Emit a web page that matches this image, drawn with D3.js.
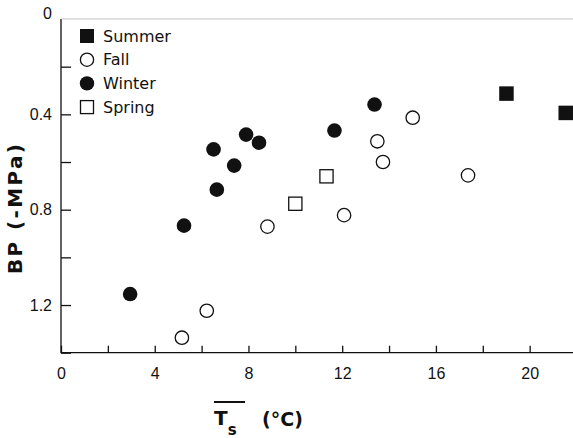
<!DOCTYPE html>
<html>
<head>
<meta charset="utf-8">
<script src="https://cdn.jsdelivr.net/npm/d3@7"></script>
<style>
  body { margin: 0; background: #fff; }
  svg { display: block; font-family: "DejaVu Sans", sans-serif; }
  .tick text { font-size: 16px; fill: #111; }
  .tick line, .domain { stroke: #111; stroke-width: 1.3; }
</style>
</head>
<body>
<div id="chart"></div>
<script>
// season data: [Ts (°C), BP (-MPa)]
const summer = [[19.01, 0.313], [21.54, 0.394]];
const fall = [[5.16, 1.337], [6.22, 1.224], [8.81, 0.871], [12.08, 0.823],
              [13.50, 0.513], [13.74, 0.600], [15.01, 0.414], [17.37, 0.656]];
const winter = [[2.95, 1.154], [5.25, 0.867], [6.51, 0.547], [6.65, 0.716],
                [7.39, 0.615], [7.90, 0.485], [8.45, 0.519], [11.67, 0.468],
                [13.38, 0.359]];
const spring = [[10.0, 0.775], [11.33, 0.660]];

const xTicks = [0, 2, 4, 6, 8, 10, 12, 14, 16, 18, 20];
const xLabels = [0, 4, 8, 12, 16, 20];
const yTicks = [0, 0.2, 0.4, 0.6, 0.8, 1.0, 1.2, 1.4];
const yLabels = [0, 0.4, 0.8, 1.2];
const legendNames = ['Summer', 'Fall', 'Winter', 'Spring'];

const width = 573, height = 438;
const margin = [19, 86, 61, 0]; // top, bottom, left, right

const svg = d3.select('#chart').append('svg')
    .attr('width', width)
    .attr('height', height);

const scaleX = d3.scaleLinear([0, 21.85], [margin[2], width - margin[3]]);
const scaleY = d3.scaleLinear([0, 1.4], [margin[0], height - margin[1] + 0.7]);

// axes, ticks pointing inward
const axisX = svg.append('g')
    .attr('transform', `translate(0,${scaleY(1.4)})`)
    .call(d3.axisBottom(scaleX)
        .tickValues(xTicks)
        .tickSize(-7)
        .tickPadding(15)
        .tickFormat(d => xLabels.includes(d) ? d : ''));

const axisY = svg.append('g')
    .attr('transform', `translate(${scaleX(0)},0)`)
    .call(d3.axisLeft(scaleY)
        .tickValues(yTicks)
        .tickSize(-10)
        .tickPadding(9)
        .tickFormat(d => yLabels.includes(d) ? (d === 0 ? '0' : d3.format('.1f')(d)) : ''));

axisX.select('.domain').remove();
axisY.select('.domain').remove();
axisY.selectAll('.tick').filter(d => d === 0).select('text').attr('y', -6);
axisY.selectAll('.tick').filter(d => d === 0).select('line').remove();

// axis lines
svg.append('path')
    .attr('d', `M${scaleX(0)},${scaleY(0)}V${scaleY(1.4)}H${width}`)
    .attr('fill', 'none')
    .attr('stroke', '#111')
    .attr('stroke-width', 1.3);
svg.append('line')
    .attr('x1', scaleX(0)).attr('x2', width)
    .attr('y1', scaleY(0)).attr('y2', scaleY(0))
    .attr('stroke', '#aaa')
    .attr('stroke-width', 0.7);

// points
const plot = svg.append('g');
const r = 7.3, s = 14.5;

plot.selectAll('circle.fall').data(fall).join('circle')
    .attr('class', 'fall')
    .attr('cx', d => scaleX(d[0])).attr('cy', d => scaleY(d[1]))
    .attr('r', r - 0.6)
    .attr('fill', '#fff').attr('stroke', '#111').attr('stroke-width', 1.3);

plot.selectAll('circle.winter').data(winter).join('circle')
    .attr('class', 'winter')
    .attr('cx', d => scaleX(d[0])).attr('cy', d => scaleY(d[1]))
    .attr('r', r)
    .attr('fill', '#111');

plot.selectAll('rect.summer').data(summer).join('rect')
    .attr('class', 'summer')
    .attr('x', d => scaleX(d[0]) - s / 2).attr('y', d => scaleY(d[1]) - s / 2)
    .attr('width', s).attr('height', s)
    .attr('fill', '#111');

plot.selectAll('rect.spring').data(spring).join('rect')
    .attr('class', 'spring')
    .attr('x', d => scaleX(d[0]) - (s - 1.3) / 2).attr('y', d => scaleY(d[1]) - (s - 1.3) / 2)
    .attr('width', s - 1.3).attr('height', s - 1.3)
    .attr('fill', '#fff').attr('stroke', '#111').attr('stroke-width', 1.3);

// legend
const legend = svg.append('g').attr('transform', 'translate(87,36)');
const rowH = 23.7;
legend.append('rect').attr('x', -7).attr('y', -7).attr('width', 14).attr('height', 14).attr('fill', '#111');
legend.append('circle').attr('cy', rowH).attr('r', 6.6)
    .attr('fill', '#fff').attr('stroke', '#111').attr('stroke-width', 1.3);
legend.append('circle').attr('cy', rowH * 2).attr('r', 7.2).attr('fill', '#111');
legend.append('rect').attr('x', -6.5).attr('y', rowH * 3 - 6.5).attr('width', 13).attr('height', 13)
    .attr('fill', '#fff').attr('stroke', '#111').attr('stroke-width', 1.3);
legend.selectAll('text').data(legendNames).join('text')
    .attr('x', 16)
    .attr('y', (d, i) => i * rowH)
    .attr('dy', '0.36em')
    .style('font-size', '16px')
    .attr('fill', '#111')
    .text(d => d);

// axis titles
svg.append('text')
    .attr('transform', 'translate(22,209)rotate(-90)')
    .attr('text-anchor', 'middle')
    .attr('textLength', 130)
    .attr('lengthAdjust', 'spacing')
    .style('font-size', '20px')
    .style('font-weight', 'bold')
    .attr('fill', '#111')
    .text('BP (-MPa)');

const xTitle = svg.append('text')
    .attr('x', 214).attr('y', 425)
    .style('font-weight', 'bold')
    .attr('fill', '#111');
xTitle.append('tspan').style('font-size', '20px').text('T');
xTitle.append('tspan').style('font-size', '15px').attr('dy', 10).text('s');
xTitle.append('tspan').style('font-size', '19px').attr('x', 262).attr('dy', -9).text('(°C)');
svg.append('line')
    .attr('x1', 214).attr('x2', 245)
    .attr('y1', 402).attr('y2', 402)
    .attr('stroke', '#111').attr('stroke-width', 2);
</script>
</body>
</html>
